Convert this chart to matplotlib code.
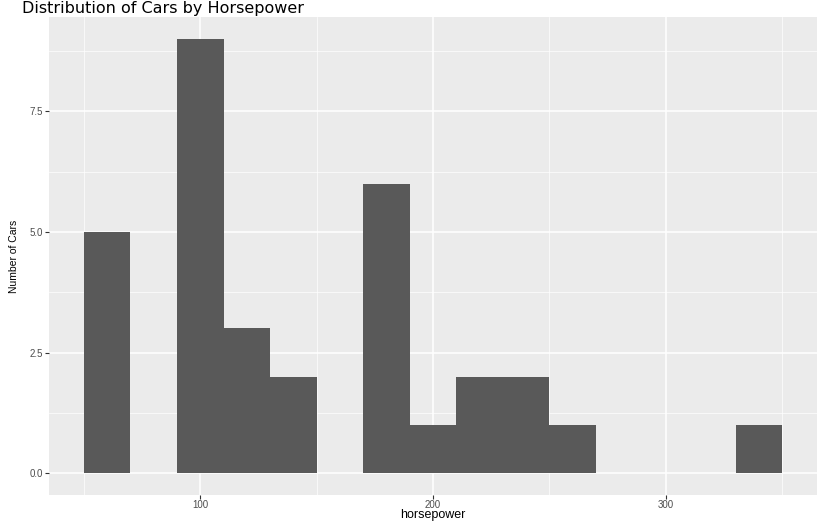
import matplotlib
matplotlib.use("Agg")
import matplotlib.pyplot as plt

# histogram of horsepower, binwidth 20
bin_left = [50, 70, 90, 110, 130, 150, 170, 190, 210, 230, 250, 270, 290, 310, 330]
counts = [5, 0, 9, 3, 2, 0, 6, 1, 2, 2, 1, 0, 0, 0, 1]
binwidth = 20

plt.rcParams["font.family"] = ["Liberation Sans", "DejaVu Sans"]

fig = plt.figure(figsize=(8.25, 5.22), dpi=100)
ax = fig.add_axes([49 / 825, 1 - 495 / 522, (817 - 49) / 825, (495 - 17) / 522])
ax.set_facecolor("#EBEBEB")

ax.bar(bin_left, counts, width=binwidth, align="edge", color="#595959", zorder=3)

ax.set_xlim(35, 365)
ax.set_ylim(-0.45, 9.45)
ax.set_xticks([100, 200, 300])
ax.set_xticks([50, 150, 250, 350], minor=True)
ax.set_yticks([0, 2.5, 5, 7.5])
ax.set_yticklabels(["0.0", "2.5", "5.0", "7.5"])
ax.set_yticks([1.25, 3.75, 6.25, 8.75], minor=True)
ax.grid(which="major", color="white", linewidth=1.1, zorder=1)
ax.grid(which="minor", color="white", linewidth=0.5, zorder=1)
for s in ax.spines.values():
    s.set_visible(False)
ax.tick_params(which="major", length=3, color="#333333", labelsize=7, labelcolor="#4D4D4D", pad=1.5)
ax.tick_params(axis="x", pad=0.5)
ax.tick_params(which="minor", length=0)

fig.text(433 / 825, 1 - 515 / 522, "horsepower", fontsize=9, ha="center", va="center")
fig.text(14 / 825, 1 - 256 / 522, "Number of Cars", fontsize=7.5,
         rotation=90, ha="center", va="center")
fig.text(22 / 825, 1 - 9 / 522, "Distribution of Cars by Horsepower", fontsize=11.5,
         family="DejaVu Sans", ha="left", va="center")

fig.savefig("out.png", dpi=100)
